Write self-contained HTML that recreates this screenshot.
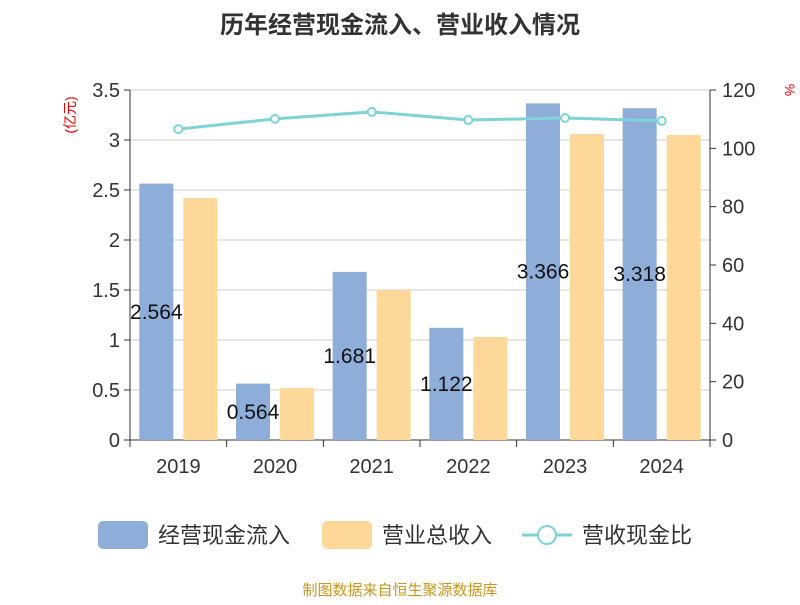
<!DOCTYPE html>
<html><head><meta charset="utf-8"><style>
body{margin:0;background:#fff}
svg text{font-family:"Liberation Sans","Noto Sans CJK SC",sans-serif}
</style></head><body>
<svg id="c" width="800" height="600" xmlns="http://www.w3.org/2000/svg">
<text x="400" y="33" text-anchor="middle" font-size="24" font-weight="bold" fill="#333">历年经营现金流入、营业收入情况</text>
<text x="75" y="115" text-anchor="middle" font-size="14" fill="#e00" transform="rotate(-90 75 115)">(亿元)</text>
<text x="785" y="90" text-anchor="middle" font-size="14" fill="#e00" transform="rotate(90 785 90)">%</text>
<g id="grid"></g><g id="bars"></g><g id="line"></g><g id="axes"></g>
<g>
<rect x="98" y="521" width="50" height="28" rx="5" fill="#8eadd9"/>
<text x="158" y="543" font-size="22" fill="#333">经营现金流入</text>
<rect x="322" y="521" width="50" height="28" rx="5" fill="#fed899"/>
<text x="382" y="543" font-size="22" fill="#333">营业总收入</text>
<line x1="522" y1="535" x2="572" y2="535" stroke="#7fd3d6" stroke-width="3"/>
<circle cx="547" cy="535" r="9" fill="#fff" stroke="#7fd3d6" stroke-width="2"/>
<text x="582" y="543" font-size="22" fill="#333">营收现金比</text>
</g>
<text x="400" y="595" text-anchor="middle" font-size="15" fill="#c8961e">制图数据来自恒生聚源数据库</text>
</svg>
<script>
const categories=["2019","2020","2021","2022","2023","2024"];
const cashIn=[2.564,0.564,1.681,1.122,3.366,3.318];
const revenue=[2.42,0.52,1.50,1.03,3.06,3.05];
const ratio=[106.6,110.1,112.5,109.7,110.4,109.4];
const leftTicks=["0","0.5","1","1.5","2","2.5","3","3.5"];
const rightTicks=["0","20","40","60","80","100","120"];
const NS="http://www.w3.org/2000/svg";
const X0=130,X1=710,Y0=440,Y1=90;
const band=(X1-X0)/categories.length;
const xc=i=>X0+band*(i+0.5);
const yL=v=>Y0-(v/3.5)*(Y0-Y1);
const yR=v=>Y0-(v/120)*(Y0-Y1);
function mk(tag,attrs,parent,text){const e=document.createElementNS(NS,tag);for(const k in attrs)e.setAttribute(k,attrs[k]);if(text!==undefined)e.textContent=text;document.getElementById(parent).appendChild(e);return e;}
leftTicks.forEach((t,i)=>{const v=parseFloat(t);const y=yL(v);
 const g=mk("line",{x1:X0,x2:X1,y1:y,y2:y,stroke:i==0?"#333":"#ccc","stroke-width":1},"grid");
 
 
 const l=mk("text",{x:X0-10,y:y+7,"text-anchor":"end","font-size":20,fill:"#333"},"axes",t);
 
 
 mk("line",{x1:X0-6,x2:X0,y1:y,y2:y,stroke:"#333"},"axes");
});
rightTicks.forEach(t=>{const y=yR(parseFloat(t));
 const l=mk("text",{x:X1+12,y:y+7,"font-size":20,fill:"#333"},"axes",t);
 
 
 mk("line",{x1:X1,x2:X1+6,y1:y,y2:y,stroke:"#333"},"axes");
});
mk("line",{x1:X0,x2:X0,y1:Y1,y2:Y0,stroke:"#333"},"axes");
mk("line",{x1:X1,x2:X1,y1:Y1,y2:Y0,stroke:"#333"},"axes");
for(let i=0;i<=categories.length;i++){const x=X0+band*i;mk("line",{x1:x,x2:x,y1:Y0,y2:Y0+7,stroke:"#333"},"axes");}
categories.forEach((c,i)=>{
 const l=mk("text",{x:xc(i),y:Y0+33,"text-anchor":"middle","font-size":20,fill:"#333"},"axes",c);
 
 
 const b=mk("rect",{x:xc(i)-39,y:yL(cashIn[i]),width:34,height:Y0-yL(cashIn[i]),fill:"#8eadd9"},"bars");
 
 
 const r=mk("rect",{x:xc(i)+5,y:yL(revenue[i]),width:34,height:Y0-yL(revenue[i]),fill:"#fed899"},"bars");
 
 
});
categories.forEach((c,i)=>{
 const t=mk("text",{x:xc(i)-22,y:(yL(cashIn[i])+Y0)/2+7,"text-anchor":"middle","font-size":21,fill:"#111"},"bars",cashIn[i].toFixed(3));
 
 
});
const pl=mk("polyline",{points:ratio.map((v,i)=>xc(i)+","+yR(v)).join(" "),fill:"none",stroke:"#7fd3d6","stroke-width":3},"line");


ratio.forEach((v,i)=>{const p=mk("circle",{cx:xc(i),cy:yR(v),r:4,fill:"#fff",stroke:"#7fd3d6","stroke-width":2},"line");
 
 });
</script>
</body></html>
